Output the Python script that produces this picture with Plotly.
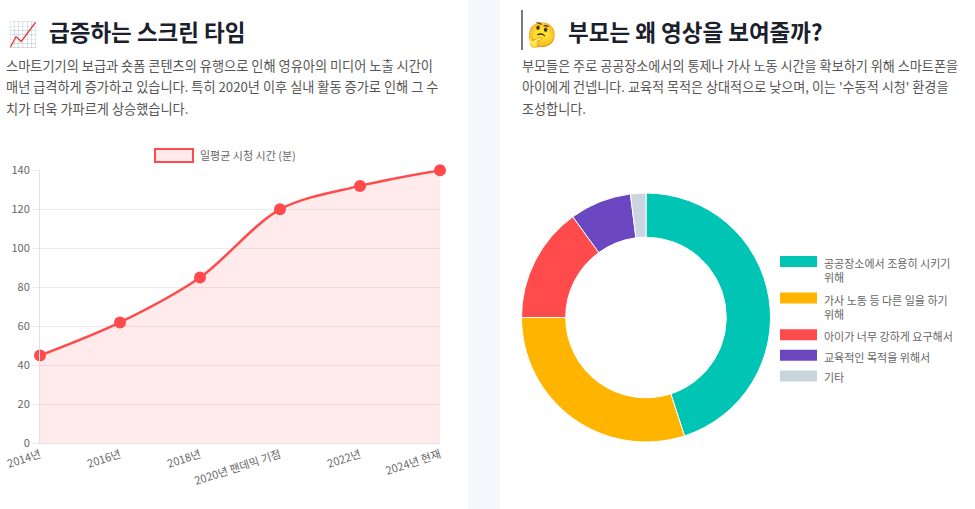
import plotly.graph_objects as go

# ---- data ----
years = ["2014년", "2016년", "2018년", "2020년 팬데믹 기점", "2022년", "2024년 현재"]
minutes = [45, 62, 85, 120, 132, 140]
series_name = "일평균 시청 시간 (분)"

reasons = [
    "공공장소에서 조용히 시키기 위해",
    "가사 노동 등 다른 일을 하기 위해",
    "아이가 너무 강하게 요구해서",
    "교육적인 목적을 위해서",
    "기타",
]
reason_share = [45, 30, 15, 8, 2]
reason_colors = ["#00C4B4", "#FFB400", "#FF4B4B", "#6B46C1", "#CBD5E0"]
# the first two legend labels wrap onto a second line in the reference
reason_wrap = [True, True, False, False, False]

left_title = "급증하는 스크린 타임"
left_desc = [
    "스마트기기의 보급과 숏폼 콘텐츠의 유행으로 인해 영유아의 미디어 노출 시간이",
    "매년 급격하게 증가하고 있습니다. 특히 2020년 이후 실내 활동 증가로 인해 그 수",
    "치가 더욱 가파르게 상승했습니다.",
]
right_title = "부모는 왜 영상을 보여줄까?"
right_desc = [
    "부모들은 주로 공공장소에서의 통제나 가사 노동 시간을 확보하기 위해 스마트폰을",
    "아이에게 건넵니다. 교육적 목적은 상대적으로 낮으며, 이는 '수동적 시청' 환경을",
    "조성합니다.",
]

W, H = 975, 509
FONT = "Noto Sans CJK KR"


def px(x):
    return x / W


def py(y):
    return 1 - y / H


fig = go.Figure()

# line chart
fig.add_trace(
    go.Scatter(
        x=years,
        y=minutes,
        mode="lines+markers",
        name=series_name,
        line=dict(color="#FF4B4B", width=2.5, shape="spline", smoothing=0.9),
        marker=dict(color="#FF4B4B", size=12),
        fill="tozeroy",
        fillcolor="rgba(255,75,75,0.11)",
        cliponaxis=False,
        showlegend=False,
    )
)

# donut
fig.add_trace(
    go.Pie(
        labels=reasons,
        values=reason_share,
        hole=0.645,
        sort=False,
        direction="clockwise",
        rotation=0,
        textinfo="none",
        marker=dict(colors=reason_colors, line=dict(color="white", width=1)),
        domain=dict(x=[px(521.5), px(770.5)], y=[py(442), py(193)]),
        showlegend=False,
    )
)

shapes = [
    # gap between the two cards
    dict(type="rect", xref="paper", yref="paper", x0=px(468), x1=px(500), y0=0, y1=1,
         fillcolor="#F4F7FB", line=dict(width=0), layer="below"),
    # bar before the right title
    dict(type="line", xref="paper", yref="paper", x0=px(522), x1=px(522), y0=py(10), y1=py(50),
         line=dict(color="#333333", width=1.3)),
    # line chart legend swatch
    dict(type="rect", xref="paper", yref="paper", x0=px(155), x1=px(193), y0=py(162), y1=py(149),
         fillcolor="#FFE9E9", line=dict(color="#FF4B4B", width=2)),
]

annotations = []


def text(x, y, s, size, color, bold=False, anchor="left", yanchor="middle"):
    annotations.append(dict(
        x=px(x), y=py(y), xref="paper", yref="paper", text=f"<b>{s}</b>" if bold else s,
        showarrow=False, xanchor=anchor, yanchor=yanchor, align="left",
        font=dict(family=FONT, size=size, color=color),
    ))


# headers
text(6, 32, "📈", 24, "#1A202C")
text(47, 31, left_title, 22.5, "#1A202C", bold=True)
text(525, 32, "🤔", 24, "#1A202C")
text(566, 31, right_title, 22.5, "#1A202C", bold=True)

for i, line in enumerate(left_desc):
    text(4, 65 + i * 21.8, line, 13.2, "#555555")
for i, line in enumerate(right_desc):
    text(520, 65 + i * 21.8, line, 13.1, "#555555")

text(198, 155.5, series_name, 11, "#666666")

# donut legend
y = 256
for label, color, wrap in zip(reasons, reason_colors, reason_wrap):
    shown = "<br>".join(label.rsplit(" ", 1)) if wrap else label
    shapes.append(dict(type="rect", xref="paper", yref="paper", x0=px(780), x1=px(817),
                       y0=py(y + 11), y1=py(y), fillcolor=color, line=dict(width=0)))
    text(822, y - 3, shown, 11, "#666666", yanchor="top")
    y += 20.6 + (16 if wrap else 0)

fig.update_layout(
    width=W,
    height=H,
    autosize=False,
    margin=dict(l=0, r=0, t=0, b=0),
    paper_bgcolor="white",
    plot_bgcolor="white",
    shapes=shapes,
    annotations=annotations,
    font=dict(family=FONT, color="#666666"),
    xaxis=dict(
        domain=[px(40), px(440)],
        range=[0, len(years) - 1],
        type="category",
        automargin=False,
        showgrid=False,
        showline=True,
        linecolor="#E2E2E2",
        tickangle=-18,
        tickfont=dict(size=11, color="#666666"),
        ticks="",
        fixedrange=True,
    ),
    yaxis=dict(
        domain=[py(443.3), py(170.3)],
        range=[0, 140],
        dtick=20,
        automargin=False,
        showgrid=True,
        gridcolor="#EBEBEB",
        showline=True,
        linecolor="#E2E2E2",
        zeroline=False,
        ticks="outside",
        ticklen=7,
        tickcolor="#EBEBEB",
        tickfont=dict(size=11, color="#666666"),
        fixedrange=True,
    ),
)

# the page's default body margin would shift the figure by 8px
fig.write_html(
    "out.html",
    config={"displayModeBar": False},
    post_script="document.body.style.margin='0';",
)
